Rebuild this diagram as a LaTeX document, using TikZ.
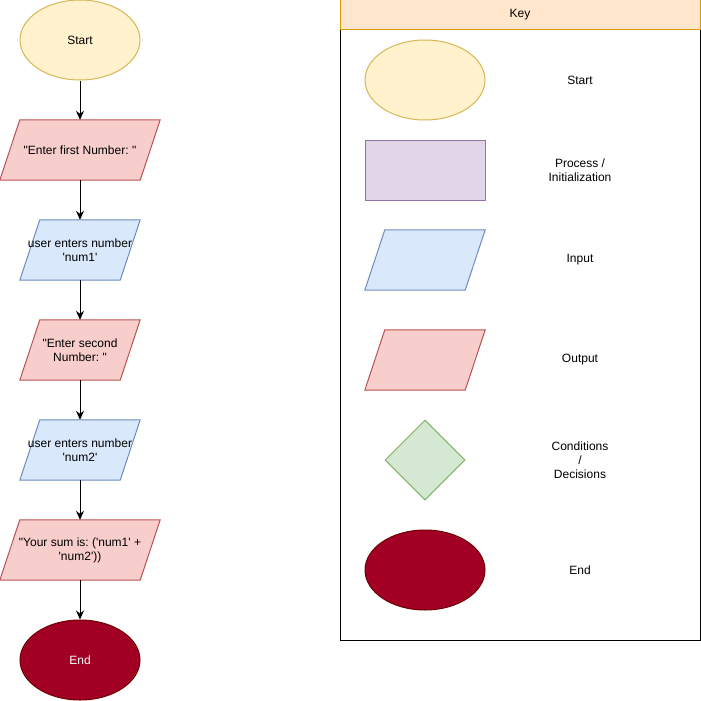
\documentclass[tikz,border=0pt]{standalone}
\usepackage{fontspec}
\newfontfamily\hv{Liberation Sans}
\usetikzlibrary{arrows.meta,backgrounds,shapes.geometric}
\definecolor{startfill}{HTML}{FFF2CC}
\definecolor{startline}{HTML}{D6B656}
\definecolor{outfill}{HTML}{F8CECC}
\definecolor{outline}{HTML}{B85450}
\definecolor{infill}{HTML}{DAE8FC}
\definecolor{inline}{HTML}{6C8EBF}
\definecolor{procfill}{HTML}{E1D5E7}
\definecolor{procline}{HTML}{9673A6}
\definecolor{decfill}{HTML}{D5E8D4}
\definecolor{decline}{HTML}{82B366}
\definecolor{endfill}{HTML}{A20025}
\definecolor{endline}{HTML}{6F0000}
\definecolor{keyfill}{HTML}{FFE6CC}
\definecolor{keyline}{HTML}{D79B00}
\newcommand\drawpara[3]{\draw[#1] ([xshift=#3]#2.north west) -- (#2.north east) -- ([xshift=-#3]#2.south east) -- (#2.south west) -- cycle;}
\frenchspacing
\begin{document}
\begin{tikzpicture}[x=1pt,y=-1pt,
  every node/.style={font=\hv\fontsize{12}{14}\selectfont\frenchspacing, align=center, inner sep=0pt},
  startsh/.style={ellipse, draw=startline, fill=startfill, line width=1pt, minimum width=120, minimum height=80},
  endsh/.style={ellipse, draw=endline, fill=endfill, line width=1pt, minimum width=120, minimum height=80, text=white},
  box/.style={rectangle, minimum height=60, minimum width=#1},
  outsh/.style={draw=outline, fill=outfill, line width=1pt, line join=miter},
  insh/.style={draw=inline, fill=infill, line width=1pt, line join=miter},
  flow/.style={line width=1pt, -{Stealth[length=9pt,width=8pt,inset=3pt]}},
  lbl/.style={}
]
\useasboundingbox (0,0) rectangle (701,701);
% flow
\node[startsh] (start) at (80,40) {Start};
\node[box=160] (o1) at (80,150) {"Enter first Number: "};
\node[box=120] (i1) at (80,250) {user enters number\\'num1'};
\node[box=120] (o2) at (80,350) {"Enter second\\Number: "};
\node[box=120] (i2) at (80,450) {user enters number\\'num2'};
\node[box=160] (o3) at (80,550) {"Your sum is: ('num1' +\\'num2'))};
\node[endsh] (end) at (80,660) {End};
\begin{scope}[on background layer]
\drawpara{outsh}{o1}{20}
\drawpara{insh}{i1}{20}
\drawpara{outsh}{o2}{20}
\drawpara{insh}{i2}{20}
\drawpara{outsh}{o3}{20}
\end{scope}
\draw[flow] (start) -- (o1);
\draw[flow] (o1) -- (i1);
\draw[flow] (i1) -- (o2);
\draw[flow] (o2) -- (i2);
\draw[flow] (i2) -- (o3);
\draw[flow] (o3) -- (end);
% key
\node[rectangle, draw=black, line width=1pt, minimum width=360, minimum height=610] (keybody) at (520,335) {};
\node[rectangle, draw=keyline, fill=keyfill, line width=1pt, minimum width=360, minimum height=30] (keyhead) at (520,15) {Key};
\node[ellipse, draw=startline, fill=startfill, line width=1pt, minimum width=120, minimum height=80] (kstart) at (425,80) {};
\node[lbl] (kstartl) at (580,80) {Start};
\node[rectangle, draw=procline, fill=procfill, line width=1pt, minimum width=120, minimum height=60] (kproc) at (425,170) {};
\node[lbl] (kprocl) at (580,170) {Process /\\Initialization};
\node[box=120] (kin) at (425,260) {};
\node[lbl] (kinl) at (580,260) {Input};
\node[box=120] (kout) at (425,360) {};
\node[lbl] (koutl) at (580,360) {Output};
\begin{scope}[on background layer]
\drawpara{insh}{kin}{20}
\drawpara{outsh}{kout}{20}
\end{scope}
\node[diamond, draw=decline, fill=decfill, line width=1pt, minimum width=80, minimum height=80] (kdec) at (425,460) {};
\node[lbl] (kdecl) at (580,460) {Conditions\\/\\Decisions};
\node[ellipse, draw=endline, fill=endfill, line width=1pt, minimum width=120, minimum height=80] (kend) at (425,570) {};
\node[lbl] (kendl) at (580,570) {End};
\end{tikzpicture}
\end{document}
